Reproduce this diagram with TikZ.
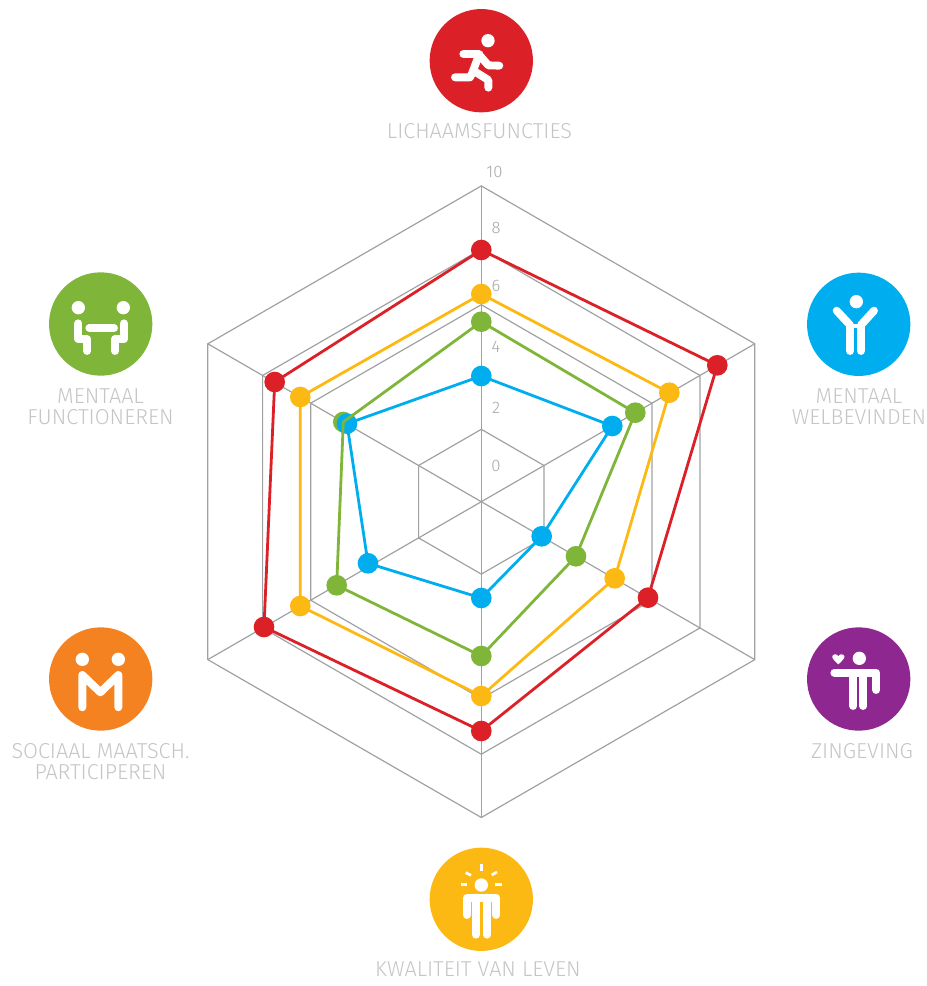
\documentclass[tikz,border=0pt]{standalone}
\usepackage{fontspec}
\setmainfont{Fira Sans}[UprightFont=* Light]
\definecolor{cred}{HTML}{DC2027}
\definecolor{cblue}{HTML}{00AEEF}
\definecolor{cpurple}{HTML}{8E278F}
\definecolor{cyellow}{HTML}{FDB913}
\definecolor{corange}{HTML}{F58220}
\definecolor{cgreen}{HTML}{7FB539}
\definecolor{cgrid}{HTML}{A0A1A3}
\definecolor{ctext}{HTML}{C4C5C7}
\definecolor{cscale}{HTML}{A6A6A6}
\tikzset{
 gridline/.style={draw=cgrid,line width=0.9pt,line join=miter},
 series/.style={line width=2.1pt,line join=round},
 dotmark/.style={circle,inner sep=0pt,minimum size=15.5pt,fill=#1},
 badge/.style={circle,inner sep=0pt,minimum size=77.5pt,fill=#1},
 caption/.style={text=ctext,align=center,font=\fontsize{16.2pt}{15.75pt}\selectfont,inner sep=0pt},
 scalelabel/.style={text=cscale,font=\fontsize{12.5pt}{13pt}\selectfont,inner sep=0pt},
 iconline/.style={draw=white,line width=5.9pt,line cap=round,line join=round},
 ray/.style={draw=white,line width=2pt},
 iconhead/.style={fill=white},
 icon/.style={x=0.25pt,y=-0.25pt},
}
\begin{document}
\begin{tikzpicture}[x=0.75pt,y=-0.75pt]
\useasboundingbox (0,0) rectangle (927,986);
% grid
\begin{scope}[shift={(481.3,501.7)}]
\foreach \R in {72.4,197,252.5,315.8}{
  \draw[gridline] (30:\R) -- (90:\R) -- (150:\R) -- (210:\R) -- (270:\R) -- (330:\R) -- cycle;
}
\foreach \a in {30,90,150,210,270,330}{
  \draw[gridline] (0,0) -- (\a:315.8);
}
\end{scope}
% scale labels
\node[scalelabel] (s10) at (494.5,172) {10};
\node[scalelabel] (s8) at (496,228) {8};
\node[scalelabel] (s6) at (496,286) {6};
\node[scalelabel] (s4) at (496,347) {4};
\node[scalelabel] (s2) at (496,408) {2};
\node[scalelabel] (s0) at (496,466) {0};
% series points
\foreach \s/\c/\xa/\ya/\xb/\yb/\xc/\yc/\xd/\yd/\xe/\ye/\xf/\yf in {
 r/cred/481.3/250/717.3/365.3/648/597.7/481.3/731/264/627/274.7/382,
 y/cyellow/481.3/294/669.3/392.7/614.7/578.3/481.3/696/300.3/606/300.3/397,
 g/cgreen/481.3/321.7/635.3/412.7/576/556.3/481.3/656/336.7/585.3/343.3/422,
 b/cblue/481.3/376/612.3/426/541.7/536.3/481.3/598/368/563.3/347/423.7}{
  \node[dotmark=\c] (\s1) at (\xa,\ya) {};
  \node[dotmark=\c] (\s2) at (\xb,\yb) {};
  \node[dotmark=\c] (\s3) at (\xc,\yc) {};
  \node[dotmark=\c] (\s4) at (\xd,\yd) {};
  \node[dotmark=\c] (\s5) at (\xe,\ye) {};
  \node[dotmark=\c] (\s6) at (\xf,\yf) {};
}
\foreach \s/\c in {b/cblue,g/cgreen,y/cyellow,r/cred}{
  \draw[series,draw=\c] (\s1.center) -- (\s2.center) -- (\s3.center) -- (\s4.center) -- (\s5.center) -- (\s6.center) -- cycle;
}
% badges
\node[badge=cred] (top) at (481.3,60.7) {};
\node[badge=cblue] (rt) at (858.7,324.3) {};
\node[badge=cpurple] (rb) at (858.7,679) {};
\node[badge=cyellow] (bot) at (481.3,899.3) {};
\node[badge=corange] (lb) at (100.7,679) {};
\node[badge=cgreen] (lt) at (100.7,324) {};
% icon: runner
\begin{scope}[shift={(420,0)},icon]
\fill[iconhead] (204,122) circle (20);
\draw[iconline] (130,162) -- (178,162) -- (157,218) -- (150,232) -- (105,232);
\draw[iconline] (165,215) -- (205,240) -- (205,263);
\draw[iconline] (178,165) -- (205,196) -- (238,197);
\end{scope}
% icon: raised arms
\begin{scope}[shift={(800,265)},icon]
\fill[iconhead] (169,110) circle (20);
\draw[iconline] (110,137) -- (150,180) -- (150,258);
\draw[iconline] (222,137) -- (183,180) -- (183,258);
\fill[white] (150,178) rectangle (183,190);
\end{scope}
% icon: heart person
\begin{scope}[shift={(800,620)},icon]
\fill[iconhead] (178,115) circle (20);
\fill[white] (115,133) .. controls (100,120) and (95,112) .. (97,108) .. controls (100,101) and (112,101) .. (115,109) .. controls (118,101) and (130,101) .. (133,108) .. controls (135,112) and (130,120) .. (115,133) -- cycle;
\draw[iconline] (103,158) -- (160,158) -- (160,258);
\draw[iconline] (190,258) -- (190,158) -- (229,158) -- (229,210);
\fill[white] (160,147) rectangle (190,172);
\end{scope}
% icon: radiant person
\begin{scope}[shift={(420,840)},icon]
\fill[iconhead] (184,135) circle (20);
\draw[ray] (184,72) -- (184,92);
\draw[ray] (137,98) -- (153,106);
\draw[ray] (215,105) -- (231,96);
\draw[ray] (122,134) -- (142,134);
\draw[ray] (226,134) -- (247,134);
\draw[iconline] (140,225) -- (140,173) -- (229,173) -- (229,225);
\draw[iconline] (167,173) -- (167,284);
\draw[iconline] (201,173) -- (201,284);
\fill[white] (140,162) rectangle (229,180);
\end{scope}
% icon: M people
\begin{scope}[shift={(40,620)},icon]
\fill[iconhead] (127,118) circle (20);
\fill[iconhead] (235,118) circle (20);
\draw[iconline] (127,262) -- (127,165) -- (181,217) -- (235,165) -- (235,262);
\end{scope}
% icon: table people
\begin{scope}[shift={(40,265)},icon]
\fill[iconhead] (115,128) circle (20);
\fill[iconhead] (250,128) circle (20);
\draw[iconline] (148,189) -- (222,189);
\draw[iconline] (115,175) -- (115,222) -- (141,222) -- (141,258);
\draw[iconline] (252,175) -- (252,222) -- (225,222) -- (225,258);
\end{scope}
% captions
\node[caption] (ctop) at (479.5,131) {LICHAAMSFUNCTIES};
\node[caption] (crt) at (859,406.5) {MENTAAL\\WELBEVINDEN};
\node[caption] (crb) at (862,751) {ZINGEVING};
\node[caption] (cbot) at (478,969) {KWALITEIT VAN LEVEN};
\node[caption] (clb) at (100.5,761.5) {SOCIAAL MAATSCH.\\PARTICIPEREN};
\node[caption] (clt) at (100.5,406.5) {MENTAAL\\FUNCTIONEREN};
\end{tikzpicture}
\end{document}
